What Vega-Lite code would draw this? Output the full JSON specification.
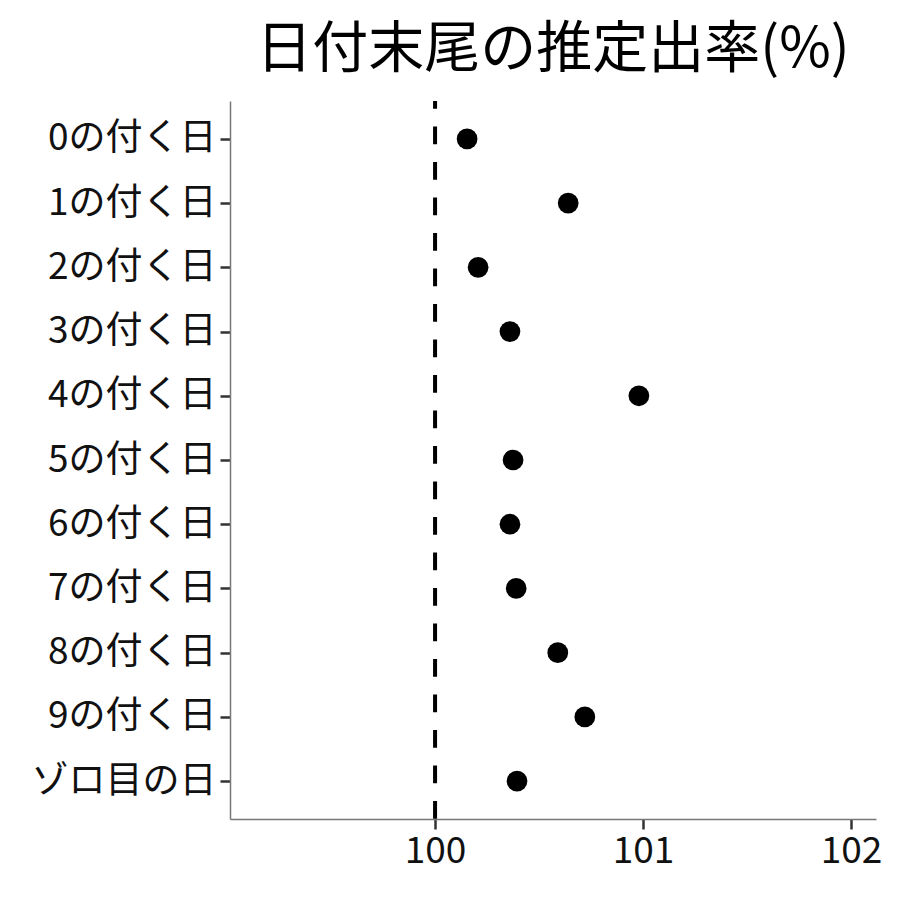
{
  "$schema": "https://vega.github.io/schema/vega-lite/v6.json",
  "autosize": {"type": "none"},
  "width": 646,
  "height": 718,
  "padding": {"left": 230, "top": 101, "right": 24, "bottom": 81},
  "background": "white",
  "title": {
    "text": "日付末尾の推定出率(%)",
    "font": "Noto Sans CJK JP",
    "fontSize": 56,
    "fontWeight": "normal",
    "color": "black",
    "anchor": "middle",
    "offset": 20
  },
  "config": {
    "view": {"stroke": null},
    "axis": {
      "labelFont": "Noto Sans CJK JP",
      "labelFontSize": 37,
      "labelColor": "#111",
      "labelLimit": 400,
      "domainColor": "#777",
      "domainWidth": 1.5,
      "tickColor": "#333",
      "tickWidth": 2.5,
      "tickSize": 10,
      "grid": false,
      "title": null
    }
  },
  "data": {
    "values": [
      {"label": "0の付く日", "rate": 100.154},
      {"label": "1の付く日", "rate": 100.64},
      {"label": "2の付く日", "rate": 100.207},
      {"label": "3の付く日", "rate": 100.36},
      {"label": "4の付く日", "rate": 100.98},
      {"label": "5の付く日", "rate": 100.375},
      {"label": "6の付く日", "rate": 100.36},
      {"label": "7の付く日", "rate": 100.39},
      {"label": "8の付く日", "rate": 100.59},
      {"label": "9の付く日", "rate": 100.72},
      {"label": "ゾロ目の日", "rate": 100.394}
    ]
  },
  "layer": [
    {
      "mark": {"type": "rule", "color": "black", "strokeWidth": 4, "strokeDash": [17.7, 17.8], "strokeDashOffset": 10},
      "data": {"values": [{"ref": 100}]},
      "encoding": {"x": {"field": "ref", "type": "quantitative"}}
    },
    {
      "mark": {"type": "circle", "size": 430, "color": "black", "opacity": 1},
      "encoding": {
        "x": {
          "field": "rate",
          "type": "quantitative",
          "scale": {"domain": [99.014, 102.12], "nice": false, "zero": false},
          "axis": {"values": [100, 101, 102], "format": "d", "labelPadding": 4}
        },
        "y": {
          "field": "label",
          "type": "nominal",
          "sort": null,
          "scale": {"type": "point", "padding": 0.59},
          "axis": {"labelPadding": 4}
        }
      }
    }
  ]
}
